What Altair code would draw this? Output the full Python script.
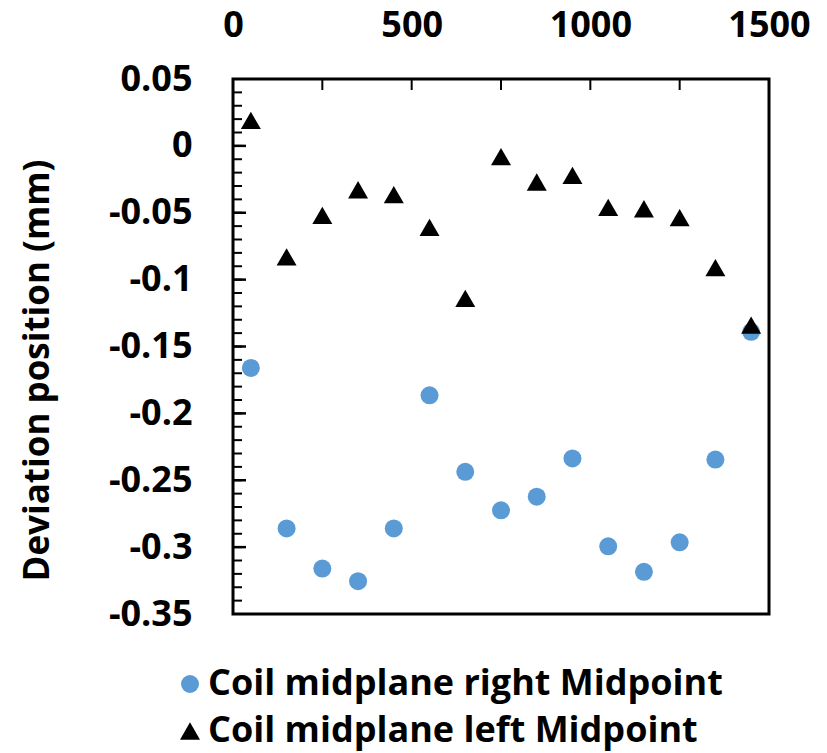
import altair as alt
import pandas as pd

# Data
x_vals = [50, 150, 250, 350, 450, 550, 650, 750, 850, 950, 1050, 1150, 1250, 1350, 1450]
right_mid = [-0.166, -0.286, -0.316, -0.3255, -0.286, -0.1865, -0.2437, -0.2725,
             -0.2623, -0.2337, -0.2994, -0.3185, -0.2964, -0.2345, -0.139]
left_mid = [0.019, -0.083, -0.052, -0.0328, -0.0365, -0.061, -0.114, -0.008,
            -0.027, -0.022, -0.046, -0.047, -0.0537, -0.091, -0.134]
series_names = ["Coil midplane right Midpoint", "Coil midplane left Midpoint"]
x_tick_labels = [0, 500, 1000, 1500]
y_tick_labels = [0.05, 0, -0.05, -0.1, -0.15, -0.2, -0.25, -0.3, -0.35]
x_inner_ticks = [250, 500, 750, 1000, 1250]
y_major_ticks = [0, -0.05, -0.1, -0.15, -0.2, -0.25, -0.3]
y_minor_ticks = [round(-0.35 + 0.01 * i, 2) for i in range(1, 40)]

rows = []
for x, v in zip(x_vals, right_mid):
    rows.append({"x": x, "y": v, "series": series_names[0]})
for x, v in zip(x_vals, left_mid):
    rows.append({"x": x, "y": v, "series": series_names[1]})
df = pd.DataFrame(rows)

FONT = "Open Sans"
xscale = alt.Scale(domain=[0, 1500], nice=False, zero=False)
yscale = alt.Scale(domain=[-0.35, 0.05], nice=False, zero=False)

x_axis = alt.Axis(orient="top", values=x_tick_labels, format="d", ticks=False, tickSize=0,
                  domain=False, grid=False, title=None, labelFont=FONT, labelFontSize=36,
                  labelFontWeight="bold", labelColor="black", labelPadding=43,
                  labelBaseline="alphabetic", labelFlush=False, labelOverlap=False)
y_axis = alt.Axis(values=y_tick_labels, ticks=False, tickSize=0, domain=False, grid=False,
                  title="Deviation position (mm)", titleFont=FONT, titleFontSize=35,
                  titleFontWeight="bold", titleColor="black", titleAngle=270,
                  titleX=-196, titleY=291, titleAlign="center", titleBaseline="middle",
                  labelFont=FONT, labelFontSize=36, labelFontWeight="bold", labelColor="black",
                  labelPadding=41, labelFlush=False, labelOverlap=False,
                  labelExpr="(datum.value < 0 ? '-' : '') + format(abs(datum.value), '.2~f')")

X = alt.X("x:Q", scale=xscale, axis=x_axis)
Y = alt.Y("y:Q", scale=yscale, axis=y_axis)

legend = alt.Legend(orient="none", legendX=-61, legendY=587, title=None,
                    labelFont=FONT, labelFontSize=36, labelFontWeight="bold",
                    labelColor="black", symbolSize=200, symbolOpacity=1,
                    symbolStrokeWidth=0, rowPadding=11, padding=0,
                    labelOffset=0, labelLimit=800)

points = alt.Chart(df).mark_point(filled=True, opacity=1, strokeWidth=0).encode(
    x=X, y=Y,
    color=alt.Color("series:N", scale=alt.Scale(domain=series_names, range=["#5B9BD5", "black"]),
                    legend=legend),
    shape=alt.Shape("series:N", scale=alt.Scale(domain=series_names, range=["circle", "triangle-up"]),
                    legend=legend),
    size=alt.Size("series:N", scale=alt.Scale(domain=series_names, range=[324, 400]), legend=None),
    order=alt.Order("series:N", sort="descending"),
)

ymin_df = pd.DataFrame({"y": y_minor_ticks})
ymaj_df = pd.DataFrame({"y": y_major_ticks})
xt_df = pd.DataFrame({"x": x_inner_ticks})

y_minor = alt.Chart(ymin_df).mark_rule(color="black", strokeWidth=2).encode(
    y=Y, x=alt.value(0), x2=alt.value(9))
y_major = alt.Chart(ymaj_df).mark_rule(color="black", strokeWidth=2.5).encode(
    y=Y, x=alt.value(0), x2=alt.value(13))
x_ticks = alt.Chart(xt_df).mark_rule(color="black", strokeWidth=2).encode(
    x=X, y=alt.value(0), y2=alt.value(11))

chart = alt.layer(y_minor, y_major, x_ticks, points).properties(
    width=536, height=535,
    autosize=alt.AutoSizeParams(type="none"),
    padding={"left": 225, "top": 71, "right": 50, "bottom": 139},
).configure(background="white").configure_view(stroke="black", strokeWidth=3)

chart.save("out.html", embed_options={"renderer": "svg", "actions": False})
